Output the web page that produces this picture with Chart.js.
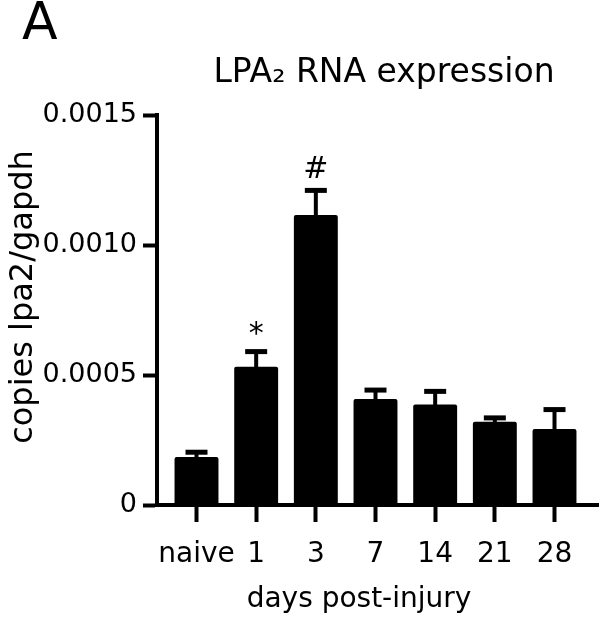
<!DOCTYPE html>
<html>
<head>
<meta charset="utf-8">
<script src="https://cdn.jsdelivr.net/npm/chart.js@4/dist/chart.umd.min.js"></script>
<style>
  html, body { margin: 0; padding: 0; background: #fff; }
  #wrap { width: 600px; height: 618px; }
</style>
</head>
<body>
<div id="wrap"><canvas id="c" width="600" height="618"></canvas></div>
<script>
// ---- data ----
const categories = ['naive', '1', '3', '7', '14', '21', '28'];
const means = [0.000185, 0.000532, 0.001115, 0.000408, 0.000387, 0.000320, 0.000292];
const errors = [0.000018, 0.000058, 0.000095, 0.000034, 0.000050, 0.000015, 0.000075];
const annotations = ['', '*', '#', '', '', '', ''];
const yTickValues = [0, 0.0005, 0.0010, 0.0015];
const yTickLabels = ['0', '0.0005', '0.0010', '0.0015'];
const panelLabel = 'A';
const chartTitle = 'LPA\u2082 RNA expression';
const xTitle = 'days post-injury';
const yTitle = 'copies lpa2/gapdh';

const FONT = '"DejaVu Sans", "Liberation Sans", sans-serif';
Chart.defaults.font.family = FONT;
Chart.defaults.color = '#000';

const errorBarPlugin = {
  id: 'errorBars',
  afterDatasetsDraw(chart) {
    const ctx = chart.ctx;
    const meta = chart.getDatasetMeta(0);
    const ys = chart.scales.y;
    ctx.save();
    ctx.strokeStyle = '#000';
    ctx.fillStyle = '#000';
    meta.data.forEach((el, i) => {
      const x = el.x;
      const yBar = el.y;
      const yTop = ys.getPixelForValue(means[i] + errors[i]);
      ctx.lineWidth = 4;
      ctx.beginPath();
      ctx.moveTo(x, yBar + 1);
      ctx.lineTo(x, yTop);
      ctx.stroke();
      ctx.lineWidth = 5;
      ctx.beginPath();
      ctx.moveTo(x - 11, yTop);
      ctx.lineTo(x + 11, yTop);
      ctx.stroke();
      const t = annotations[i];
      if (t) {
        ctx.font = '30px ' + FONT;
        ctx.textAlign = 'center';
        ctx.textBaseline = 'alphabetic';
        const m = ctx.measureText(t);
        const cy = yTop - 2.5 - 21;
        const base = cy + (m.actualBoundingBoxAscent - m.actualBoundingBoxDescent) / 2;
        ctx.fillText(t, x, base);
      }
    });
    ctx.restore();
  }
};

const textPlugin = {
  id: 'outerTexts',
  afterDraw(chart) {
    const ctx = chart.ctx;
    ctx.save();
    ctx.fillStyle = '#000';
    // panel label
    ctx.font = '52px ' + FONT;
    ctx.textAlign = 'left';
    ctx.textBaseline = 'alphabetic';
    ctx.fillText(panelLabel, 22, 39);
    // main title
    ctx.font = '33px ' + FONT;
    ctx.textAlign = 'center';
    ctx.fillText(chartTitle, 384, 82);
    // x axis title
    ctx.font = '28px ' + FONT;
    ctx.fillText(xTitle, 359, 607);
    // y axis title
    ctx.save();
    ctx.translate(24, 297);
    ctx.rotate(-Math.PI / 2);
    ctx.font = '32px ' + FONT;
    ctx.textAlign = 'center';
    ctx.textBaseline = 'middle';
    ctx.fillText(yTitle, 0, 0);
    ctx.restore();
    ctx.restore();
  }
};

new Chart(document.getElementById('c'), {
  type: 'bar',
  data: {
    datasets: [{
      data: categories.map((c, i) => ({ x: i, y: means[i] })),
      backgroundColor: '#000',
      borderWidth: 0,
      borderRadius: 2,
      borderSkipped: 'start',
      barPercentage: 0.92,
      categoryPercentage: 0.8
    }]
  },
  options: {
    responsive: false,
    animation: false,
    layout: { padding: { top: 115, right: 2, left: 0, bottom: 0 } },
    plugins: {
      legend: { display: false },
      tooltip: { enabled: false },
      title: { display: false }
    },
    scales: {
      x: {
        type: 'linear',
        offset: false,
        min: -0.662,
        max: 6.729,
        afterBuildTicks(scale) {
          scale.ticks = categories.map((c, i) => ({ value: i }));
        },
        afterFit(scale) { scale.height = 113; },
        ticks: {
          autoSkip: false,
          maxRotation: 0,
          padding: 16,
          font: { size: 28 },
          color: '#000',
          callback: (v) => categories[Math.round(v)] ?? ''
        },
        grid: {
          offset: false,
          drawOnChartArea: false,
          drawTicks: true,
          tickLength: 17,
          tickWidth: 4,
          color: '#000'
        },
        border: { display: true, width: 4, color: '#000' }
      },
      y: {
        min: 0,
        max: 0.0015,
        afterBuildTicks(scale) {
          scale.ticks = yTickValues.map(v => ({ value: v }));
        },
        afterFit(scale) { scale.width = 157; },
        ticks: {
          padding: 6,
          font: { size: 27 },
          color: '#000',
          callback: (v) => {
            const idx = yTickValues.findIndex(t => Math.abs(t - v) < 1e-9);
            return idx >= 0 ? yTickLabels[idx] : '';
          }
        },
        grid: {
          drawOnChartArea: false,
          drawTicks: true,
          tickLength: 14,
          tickWidth: 4,
          color: '#000'
        },
        border: { display: true, width: 4, color: '#000' }
      }
    }
  },
  plugins: [errorBarPlugin, textPlugin]
});
</script>
</body>
</html>
